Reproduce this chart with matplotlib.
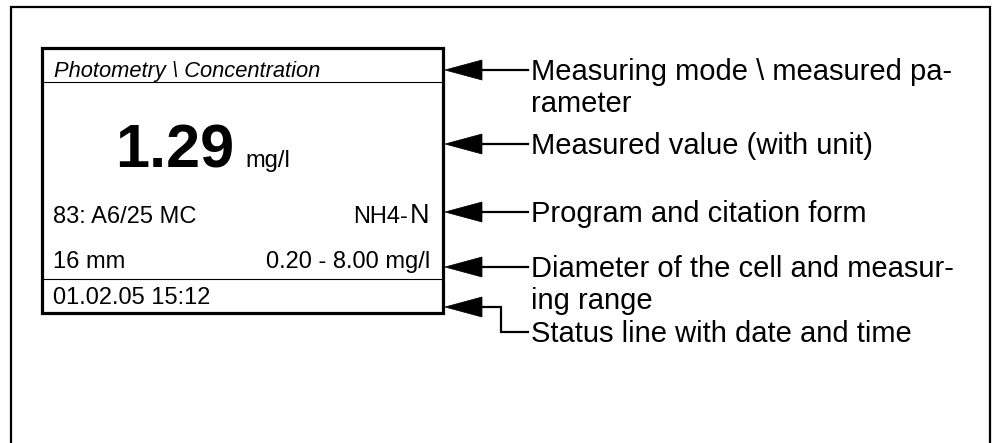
import matplotlib
matplotlib.use("Agg")
import matplotlib.pyplot as plt
from matplotlib import font_manager
from matplotlib.patches import Polygon, Rectangle

# texts shown on the display
header = "Photometry \\ Concentration"
value = "1.29"
unit = "mg/l"
program = "83: A6/25 MC"
citation = "NH4-"
citation_n = "N"
cell = "16 mm"
meas_range = "0.20 - 8.00 mg/l"
status = "01.02.05 15:12"

# callout labels (one entry per arrow)
labels = [
    ["Measuring mode \\ measured pa-", "rameter"],
    ["Measured value (with unit)"],
    ["Program and citation form"],
    ["Diameter of the cell and measur-", "ing range"],
    ["Status line with date and time"],
]

# layout (pixel coords, y down)
arrow_y = [70, 144, 212, 267, 307]
label_y = [70, 144, 212, 267, 332]

names = {f.name for f in font_manager.fontManager.ttflist}
base = "Liberation Sans" if "Liberation Sans" in names else "DejaVu Sans"
narrow = "Liberation Sans Narrow" if "Liberation Sans Narrow" in names else base
nscale = 1.0 if narrow != base else 0.85

fig = plt.figure(figsize=(9.99, 4.43), dpi=100)
ax = fig.add_axes([0, 0, 1, 1])
ax.set_xlim(0, 999)
ax.set_ylim(443, 0)
ax.axis("off")

# outer frame (open at the bottom)
ax.plot([11, 11, 990, 990], [450, 7, 7, 450], color="black", lw=1.6,
        solid_joinstyle="miter")

# display box
ax.add_patch(Rectangle((42, 48), 401, 265, fill=False, ec="black", lw=2.3,
                       joinstyle="miter"))
ax.plot([43, 442], [82, 82], color="black", lw=0.8)
ax.plot([43, 442], [279, 279], color="black", lw=0.8)

ax.text(54, 77, header, family=narrow, style="italic", fontsize=18.5 * nscale,
        va="baseline")
ax.text(115, 167, value, family=base, weight="bold", fontsize=44, va="baseline")
ax.text(245, 167, unit, family=narrow, fontsize=20 * nscale, va="baseline")
ax.text(53, 223, program, family=base, fontsize=17, va="baseline")
ax.text(410, 223, citation_n, family=base, fontsize=19.5, va="baseline",
        ha="left")
ax.text(408, 223, citation, family=base, fontsize=17, va="baseline", ha="right")
ax.text(53, 268, cell, family=base, fontsize=17, va="baseline")
ax.text(430, 268, meas_range, family=base, fontsize=17, va="baseline", ha="right")
ax.text(53, 304, status, family=base, fontsize=17, va="baseline")

# arrows and callouts
for ay, ly, lines in zip(arrow_y, label_y, labels):
    ax.add_patch(Polygon([[445, ay], [482, ay - 10], [482, ay + 10]],
                         closed=True, fc="black", ec="black", lw=0.5))
    if ay == ly:
        ax.plot([480, 528], [ay, ay], color="black", lw=1.6)
    else:
        ax.plot([480, 501, 501, 528], [ay, ay, ly, ly], color="black", lw=1.6,
                solid_joinstyle="miter")
    for k, line in enumerate(lines):
        ax.text(531, ly + 10 + k * 32, line, family=base, fontsize=21,
                va="baseline")

fig.savefig("out.png", dpi=100)
